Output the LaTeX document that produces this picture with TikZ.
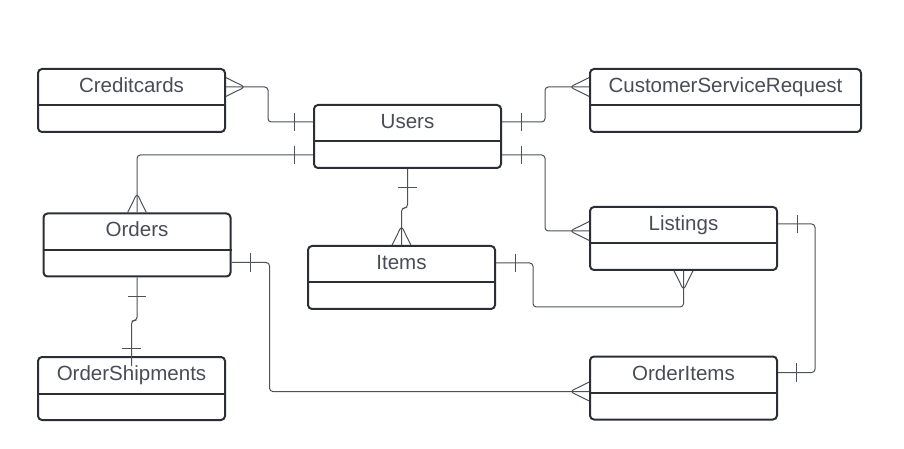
\documentclass[tikz,border=0pt]{standalone}
\usepackage{fontspec}
\setmainfont{Liberation Sans}
\usepackage{tikz}
\usetikzlibrary{decorations.markings}

\definecolor{boxline}{HTML}{2B2E35}
\definecolor{titletext}{HTML}{474C56}
\definecolor{linkgray}{HTML}{4D525A}

\begin{document}
\begin{tikzpicture}[x=0.75pt,y=-0.75pt,
		entity/.style={draw=boxline,line width=1.5pt,rounded corners=3pt,
			minimum width=140.25pt,minimum height=47.25pt,inner sep=0pt},
		title/.style={anchor=base,text=titletext,inner sep=0pt,
			font=\fontsize{15.4pt}{18pt}\selectfont},
		divider/.style={draw=boxline,line width=1.5pt},
		link/.style={draw=linkgray,line width=0.75pt},
		connector/.style={link,rounded corners=2.5pt},
		barfirst/.style={postaction={decorate,decoration={markings,
			mark=at position 14.25pt with {\draw[link] (0,-7pt) -- (0,7pt);}}}},
		barlast/.style={postaction={decorate,decoration={markings,
			mark=at position -13.5pt with {\draw[link] (0,-7pt) -- (0,7pt);}}}},
		crowlast/.style={postaction={decorate,decoration={markings,
			mark=at position 1 with {\draw[link] (0,7pt) -- (-14.25pt,0) -- (0,-7pt);}}}}]
		
		\useasboundingbox (0,0) rectangle (904,449);
		
		% entities
		\node[entity] (creditcards) at (131.5,100.5) {};
		\node[title] at ([shift={(0,24.5)}]creditcards.north) {Creditcards};
		\draw[divider] ([shift={(0,37.5)}]creditcards.north west) -- ([shift={(0,37.5)}]creditcards.north east);
		
		\node[entity] (users) at (407.5,136.5) {};
		\node[title] at ([shift={(0,24.5)}]users.north) {Users};
		\draw[divider] ([shift={(0,37.5)}]users.north west) -- ([shift={(0,37.5)}]users.north east);
		
		\node[entity,minimum width=203.25pt] (csr) at (725.5,100.5) {};
		\node[title] at ([shift={(0,24.5)}]csr.north) {CustomerServiceRequest};
		\draw[divider] ([shift={(0,37.5)}]csr.north west) -- ([shift={(0,37.5)}]csr.north east);
		
		\node[entity] (orders) at (137,245) {};
		\node[title] at ([shift={(0,24.5)}]orders.north) {Orders};
		\draw[divider] ([shift={(0,37.5)}]orders.north west) -- ([shift={(0,37.5)}]orders.north east);
		
		\node[entity] (items) at (401.5,277.5) {};
		\node[title] at ([shift={(0,25)}]items.north) {Items};
		\draw[divider] ([shift={(0,37.5)}]items.north west) -- ([shift={(0,37.5)}]items.north east);
		
		\node[entity] (listings) at (683.5,238.5) {};
		\node[title] at ([shift={(0,24.5)}]listings.north) {Listings};
		\draw[divider] ([shift={(0,37.5)}]listings.north west) -- ([shift={(0,37.5)}]listings.north east);
		
		\node[entity] (shipments) at (131.5,388.5) {};
		\node[title] at ([shift={(0,24.5)}]shipments.north) {OrderShipments};
		\draw[divider] ([shift={(0,37.5)}]shipments.north west) -- ([shift={(0,37.5)}]shipments.north east);
		
		\node[entity] (orderitems) at (683.5,388) {};
		\node[title] at ([shift={(0,24.5)}]orderitems.north) {OrderItems};
		\draw[divider] ([shift={(0,37.5)}]orderitems.north west) -- ([shift={(0,37.5)}]orderitems.north east);
		
		% relations
		\draw[connector,barfirst,crowlast] ([shift={(0,18)}]users.north west)
			-- ++(-45,0) |- ([shift={(0,19)}]creditcards.north east);
		\draw[connector,barfirst,crowlast] ([shift={(0,51)}]users.north west)
			-| (orders.north);
		\draw[connector,barfirst,crowlast] (users.south)
			-- ++(0,39) -| (items.north);
		\draw[connector,barfirst,crowlast] ([shift={(0,18)}]users.north east)
			-- ++(43,0) |- ([shift={(0,19)}]csr.north west);
		\draw[connector,barfirst,crowlast] ([shift={(0,51)}]users.north east)
			-- ++(43,0) |- ([shift={(0,25)}]listings.north west);
		\draw[connector,barfirst,crowlast] ([shift={(0,18)}]items.north east)
			-- ++(37,0) -- ++(0,44) -| (listings.south);
		\draw[connector,barfirst,barlast] ([shift={(0,18)}]listings.north east)
			-- ++(37,0) |- ([shift={(0,17)}]orderitems.north east);
		\draw[connector,barfirst,crowlast] ([shift={(0,50)}]orders.north east)
			-- ++(38,0) |- ([shift={(0,36)}]orderitems.north west);
		\draw[connector,barfirst,barlast] (orders.south)
			-- ++(0,43) -| ([shift={(0,10)}]shipments.north);
\end{tikzpicture}
\end{document}
